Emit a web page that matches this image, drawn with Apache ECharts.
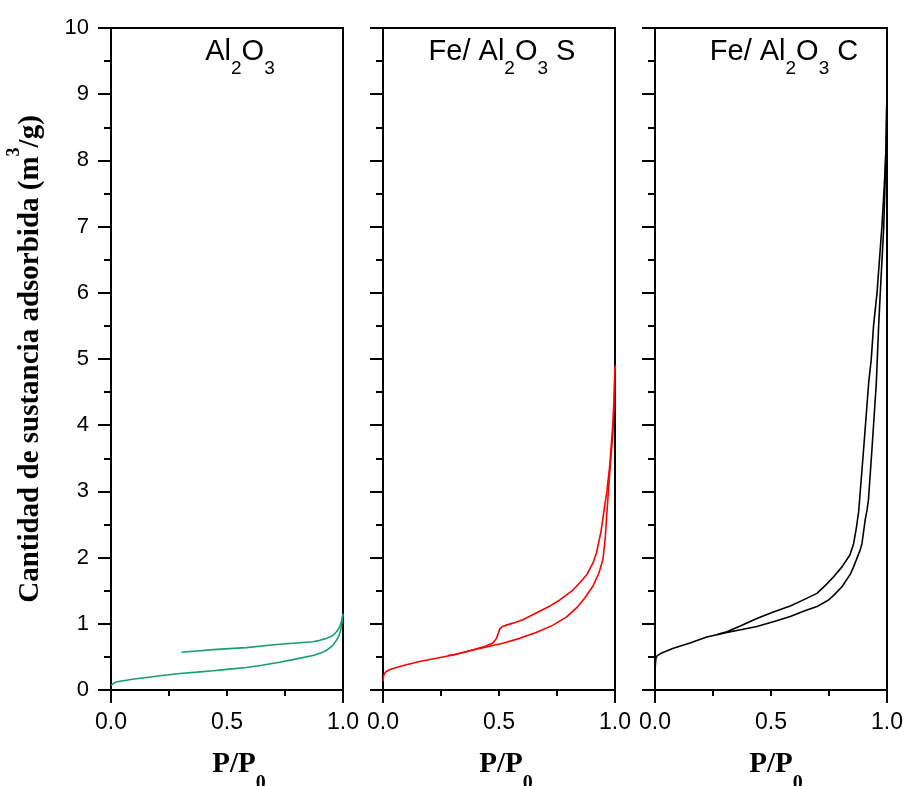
<!DOCTYPE html>
<html>
<head>
<meta charset="utf-8">
<script src="https://cdn.jsdelivr.net/npm/echarts@6/dist/echarts.min.js"></script>
<style>
  html, body { margin: 0; padding: 0; background: #fff; }
  #chart { width: 907px; height: 786px; }
</style>
</head>
<body>
<div id="chart"></div>
<script>
// N2 isotherms: relative pressure P/P0 and adsorbed quantity (m3/g)

// Al2O3
const alAdsP = [0, 0.003, 0.02, 0.053, 0.1, 0.154, 0.22, 0.297, 0.37, 0.44, 0.51, 0.584, 0.65, 0.727, 0.8, 0.871, 0.91, 0.929, 0.955, 0.972, 0.985, 0.993, 1.0];
const alAdsV = [0.07, 0.1, 0.12, 0.14, 0.165, 0.19, 0.22, 0.25, 0.27, 0.29, 0.315, 0.34, 0.375, 0.42, 0.47, 0.52, 0.565, 0.6, 0.67, 0.75, 0.84, 0.95, 1.15];
const alDesP = [1.0, 0.993, 0.985, 0.972, 0.955, 0.929, 0.9, 0.871, 0.8, 0.727, 0.65, 0.584, 0.51, 0.44, 0.37, 0.304];
const alDesV = [1.15, 1.03, 0.95, 0.88, 0.82, 0.78, 0.75, 0.73, 0.71, 0.69, 0.665, 0.64, 0.625, 0.61, 0.59, 0.57];

// Fe/Al2O3 S
const feSAdsP = [0, 0.002, 0.005, 0.014, 0.03, 0.058, 0.1, 0.158, 0.23, 0.302, 0.37, 0.446, 0.52, 0.589, 0.66, 0.733, 0.79, 0.834, 0.87, 0.905, 0.93, 0.948, 0.958, 0.965, 0.977, 0.991, 0.997, 1.0];
const feSAdsV = [0.13, 0.2, 0.24, 0.28, 0.31, 0.34, 0.38, 0.43, 0.48, 0.53, 0.59, 0.65, 0.71, 0.78, 0.87, 0.98, 1.1, 1.24, 1.39, 1.57, 1.76, 1.97, 2.3, 2.67, 3.28, 3.88, 4.4, 4.9];
const feSDesP = [1.0, 0.997, 0.991, 0.977, 0.965, 0.955, 0.94, 0.92, 0.905, 0.88, 0.848, 0.819, 0.762, 0.72, 0.675, 0.603, 0.56, 0.532, 0.515, 0.503, 0.496, 0.489, 0.474, 0.44, 0.4, 0.35, 0.3, 0.28];
const feSDesV = [4.9, 4.5, 4.03, 3.38, 3.0, 2.77, 2.4, 2.07, 1.92, 1.75, 1.62, 1.51, 1.36, 1.27, 1.19, 1.06, 1.01, 0.98, 0.96, 0.92, 0.85, 0.78, 0.71, 0.66, 0.62, 0.57, 0.53, 0.52];

// Fe/Al2O3 C
const feCAdsP = [0, 0, 0.002, 0.004, 0.01, 0.029, 0.079, 0.151, 0.223, 0.31, 0.37, 0.439, 0.51, 0.583, 0.64, 0.698, 0.748, 0.77, 0.806, 0.842, 0.856, 0.885, 0.892, 0.906, 0.914, 0.92, 0.935, 0.954, 0.964, 0.971, 0.986, 0.994, 1.0];
const feCAdsV = [0.2, 0.3, 0.4, 0.48, 0.52, 0.56, 0.63, 0.71, 0.8, 0.87, 0.91, 0.96, 1.03, 1.11, 1.19, 1.26, 1.36, 1.43, 1.56, 1.75, 1.86, 2.12, 2.21, 2.57, 2.72, 2.87, 3.63, 4.64, 5.5, 6.0, 7.0, 7.92, 9.08];
const feCDesP = [1.0, 0.997, 0.988, 0.978, 0.957, 0.942, 0.932, 0.921, 0.899, 0.878, 0.868, 0.856, 0.84, 0.806, 0.77, 0.74, 0.698, 0.633, 0.583, 0.51, 0.439, 0.37, 0.31, 0.27];
const feCDesV = [9.08, 8.27, 7.6, 7.0, 6.0, 5.5, 4.99, 4.64, 3.63, 2.7, 2.45, 2.21, 2.04, 1.86, 1.71, 1.6, 1.46, 1.35, 1.27, 1.18, 1.08, 0.97, 0.88, 0.84];

const panelTitles = ['Al{sub|2}O{sub|3}', 'Fe/ Al{sub|2}O{sub|3} S', 'Fe/ Al{sub|2}O{sub|3} C'];
const panelColors = ['#179c74', '#ff0000', '#000000'];
const yTitle = 'Cantidad de sustancia adsorbida (m{sup|3}/g)';
const xTitle = 'P/P{sub|0}';

const panels = [
  { ads: [alAdsP, alAdsV], des: [alDesP, alDesV] },
  { ads: [feSAdsP, feSAdsV], des: [feSDesP, feSDesV] },
  { ads: [feCAdsP, feCAdsV], des: [feCDesP, feCDesV] }
];

const zip = (xs, ys) => xs.map((x, i) => [x, ys[i]]);

const SANS = '"Liberation Sans", Arial, sans-serif';
const SERIF = '"Liberation Serif", "Times New Roman", serif';
const gridLeft = [111, 383, 655];
const gridW = 232, gridTop = 28, gridH = 662;
const titleCx = [235, 497, 779];
const xNameShift = [24, 14, 10];

const grid = [], xAxis = [], yAxis = [], series = [], title = [];

panels.forEach((p, i) => {
  grid.push({
    left: gridLeft[i], top: gridTop, width: gridW, height: gridH,
    containLabel: false, outerBoundsMode: 'none',
    show: true, borderColor: '#000', borderWidth: 2, backgroundColor: 'transparent'
  });

  // main x axis: labels at 0, 0.5, 1 with short ticks
  xAxis.push({
    type: 'value', gridIndex: i, min: 0, max: 1, interval: 0.5,
    axisLine: { show: true, lineStyle: { color: '#000', width: 2 } },
    axisTick: { show: true, length: 6, lineStyle: { color: '#000', width: 2 } },
    minorTick: { show: true, splitNumber: 2, length: 6, lineStyle: { color: '#000', width: 2 } },
    splitLine: { show: false },
    axisLabel: {
      show: true, margin: 21, color: '#000', fontSize: 23, fontFamily: SANS,
      formatter: v => v.toFixed(1)
    },
    name: xTitle, nameLocation: 'middle', nameGap: 46,
    nameTextStyle: {
      color: '#000', fontFamily: SERIF, fontWeight: 'bold', fontSize: 29,
      padding: [0, 0, 0, xNameShift[i]],
      rich: { sub: { fontFamily: SERIF, fontWeight: 'bold', fontSize: 20, padding: [38, 0, 0, 0] } }
    }
  });
  // end ticks at 0 and 1
  xAxis.push({
    type: 'value', gridIndex: i, min: 0, max: 1, interval: 1, position: 'bottom',
    axisLine: { show: false },
    axisTick: { show: true, length: 13, lineStyle: { color: '#000', width: 2 } },
    axisLabel: { show: false }, splitLine: { show: false }
  });

  yAxis.push({
    type: 'value', gridIndex: i, min: 0, max: 10, interval: 1,
    axisLine: { show: true, lineStyle: { color: '#000', width: 2 } },
    axisTick: { show: true, length: 13, lineStyle: { color: '#000', width: 2 } },
    minorTick: { show: true, splitNumber: 2, length: 7, lineStyle: { color: '#000', width: 2 } },
    splitLine: { show: false },
    axisLabel: { show: i === 0, margin: 22, color: '#000', fontSize: 22, fontFamily: SANS },
    name: i === 0 ? yTitle : '', nameLocation: 'middle', nameRotate: 90, nameGap: 54,
    nameTextStyle: {
      color: '#000', fontFamily: SERIF, fontWeight: 'bold', fontSize: 29,
      rich: { sup: { fontFamily: SERIF, fontWeight: 'bold', fontSize: 18, padding: [0, 0, 34, 0] } }
    }
  });

  title.push({
    text: panelTitles[i], left: titleCx[i], top: 20, textAlign: 'center',
    textStyle: {
      color: '#000', fontFamily: SANS, fontWeight: 'normal', fontSize: 29,
      rich: { sub: { fontFamily: SANS, fontSize: 19, padding: [34, 0, 0, 0] } }
    }
  });

  ['ads', 'des'].forEach(k => {
    series.push({
      type: 'line', xAxisIndex: 2 * i, yAxisIndex: i,
      data: zip(p[k][0], p[k][1]),
      showSymbol: false, symbol: 'none', smooth: false,
      lineStyle: { color: panelColors[i], width: 1.6 },
      silent: true, animation: false
    });
  });
});

const chart = echarts.init(document.getElementById('chart'), null, { renderer: 'canvas' });
chart.setOption({ animation: false, backgroundColor: '#fff', title, grid, xAxis, yAxis, series });
</script>
</body>
</html>
